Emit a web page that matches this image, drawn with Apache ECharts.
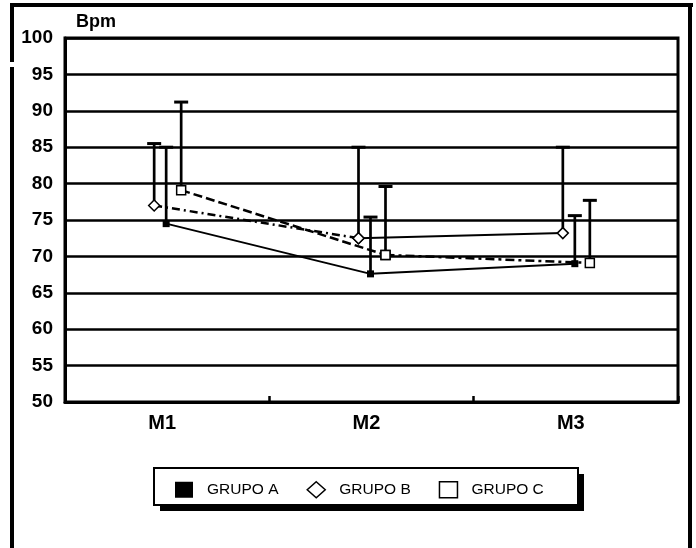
<!DOCTYPE html>
<html>
<head>
<meta charset="utf-8">
<script src="https://cdn.jsdelivr.net/npm/echarts@6/dist/echarts.min.js"></script>
<style>
html,body{margin:0;padding:0;background:#fff;}
#c{width:696px;height:548px;}
</style>
</head>
<body>
<div id="c"></div>
<script>
// ---- data ----
const categories = ['M1', 'M2', 'M3'];
const seriesNames = ['GRUPO A', 'GRUPO B', 'GRUPO C'];
const yMin = 50, yMax = 100, yStep = 5;
const grupoA = [74.5, 67.6, 69.0];
const grupoB = [77.0, 72.5, 73.2];
const grupoC = [79.1, 70.2, 69.1];
const sdA = [10.5, 7.8, 6.6];
const sdB = [8.5, 12.5, 11.8];
const sdC = [12.1, 9.4, 8.6];

// ---- layout / style ----
const W = 696, H = 548;
const GRID = {left: 65, right: 18, top: 38, bottom: 146};
const catWidthPx = (W - GRID.left - GRID.right) / categories.length;
const offsetPx = {A: -1, B: -13, C: 14};
const font = 'Liberation Sans, Arial, sans-serif';

function pts(vals, offPx, from, to) {
  const off = offPx / catWidthPx;
  const out = [];
  for (let i = from; i <= to; i++) out.push([i + off, vals[i]]);
  return out;
}

function errSeries(name, vals, sds, offPx) {
  const off = offPx / catWidthPx;
  return {
    type: 'custom', name: name, xAxisIndex: 1, z: 2, silent: true,
    data: vals.map((v, i) => [i + off, v, v + sds[i]]),
    renderItem: function (params, api) {
      const p0 = api.coord([api.value(0), api.value(1)]);
      const p1 = api.coord([api.value(0), api.value(2)]);
      return {
        type: 'group',
        children: [
          {type: 'line', shape: {x1: p0[0], y1: p0[1], x2: p1[0], y2: p1[1]},
           style: {stroke: '#000', lineWidth: 2.7}},
          {type: 'line', shape: {x1: p1[0] - 7, y1: p1[1], x2: p1[0] + 7, y2: p1[1]},
           style: {stroke: '#000', lineWidth: 3}}
        ]
      };
    }
  };
}

const symA = {symbol: 'rect', symbolSize: 7, itemStyle: {color: '#000', borderColor: '#000', borderWidth: 0}};
const symB = {symbol: 'diamond', symbolSize: 11, itemStyle: {color: '#fff', borderColor: '#000', borderWidth: 1.5}};
const symC = {symbol: 'rect', symbolSize: 9, itemStyle: {color: '#fff', borderColor: '#000', borderWidth: 1.5}};

function lineSeries(name, data, sym, lineType, width) {
  return Object.assign({
    type: 'line', name: name, xAxisIndex: 1, z: 3, data: data,
    showAllSymbol: true,
    lineStyle: {color: '#000', width: width, type: lineType},
    emphasis: {disabled: true}
  }, JSON.parse(JSON.stringify(sym)));
}

const chart = echarts.init(document.getElementById('c'), null, {renderer: 'canvas'});
chart.setOption({
  animation: false,
  backgroundColor: '#fff',
  title: {
    text: 'Bpm', left: 76, top: 13, padding: 0,
    textStyle: {fontSize: 18, fontWeight: 'bold', color: '#000', fontFamily: font}
  },
  grid: Object.assign({show: true, borderColor: '#000', borderWidth: 3, containLabel: false}, GRID),
  legend: {
    left: 175, top: 481, orient: 'horizontal',
    padding: 0,
    itemWidth: 18, itemHeight: 16, itemGap: 28,
    selectedMode: false,
    textStyle: {fontSize: 15.5, color: '#000', fontFamily: font, padding: [0, 0, 0, 9]},
    data: [
      {name: seriesNames[0], icon: 'rect', itemStyle: {color: '#000', borderWidth: 0}},
      {name: seriesNames[1], icon: 'diamond', itemStyle: {color: '#fff', borderColor: '#000', borderWidth: 1.5}},
      {name: seriesNames[2], icon: 'rect', itemStyle: {color: '#fff', borderColor: '#000', borderWidth: 1.5}}
    ]
  },
  xAxis: [
    {
      type: 'category', data: categories, boundaryGap: true,
      axisLine: {lineStyle: {color: '#000', width: 3}},
      axisTick: {show: true, inside: true, length: 6, lineStyle: {color: '#000', width: 2.5}},
      axisLabel: {fontSize: 20, fontWeight: 'bold', color: '#000', fontFamily: font, margin: 11, padding: [0, 10, 0, 0]},
      splitLine: {show: false}
    },
    {type: 'value', min: -0.5, max: categories.length - 0.5, show: false}
  ],
  yAxis: {
    type: 'value', min: yMin, max: yMax, interval: yStep,
    axisLine: {show: true, onZero: false, lineStyle: {color: '#000', width: 3}},
    axisTick: {show: false},
    axisLabel: {fontSize: 19, fontWeight: 'bold', color: '#000', fontFamily: font, margin: 12},
    splitLine: {show: true, lineStyle: {color: '#000', width: 2.5}}
  },
  series: [
    errSeries('SD A', grupoA, sdA, offsetPx.A),
    errSeries('SD B', grupoB, sdB, offsetPx.B),
    errSeries('SD C', grupoC, sdC, offsetPx.C),
    lineSeries(seriesNames[0], pts(grupoA, offsetPx.A, 0, 2), symA, 'solid', 2),
    lineSeries(seriesNames[1], pts(grupoB, offsetPx.B, 0, 1), symB, [8, 4, 2, 4], 2.5),
    lineSeries(seriesNames[1], pts(grupoB, offsetPx.B, 1, 2), symB, 'solid', 2),
    lineSeries(seriesNames[2], pts(grupoC, offsetPx.C, 0, 1), symC, [9, 4], 2.5),
    lineSeries(seriesNames[2], pts(grupoC, offsetPx.C, 1, 2), symC, [9, 4, 3, 4], 2.5)
  ],
  graphic: [
    {type: 'line', shape: {x1: 10, y1: 5, x2: 693, y2: 5}, style: {stroke: '#000', lineWidth: 4}, silent: true},
    {type: 'line', shape: {x1: 12, y1: 3, x2: 12, y2: 62}, style: {stroke: '#000', lineWidth: 4}, silent: true},
    {type: 'line', shape: {x1: 12, y1: 67, x2: 12, y2: 548}, style: {stroke: '#000', lineWidth: 4}, silent: true},
    {type: 'line', shape: {x1: 690, y1: 3, x2: 690, y2: 548}, style: {stroke: '#000', lineWidth: 4}, silent: true},
    {type: 'rect', shape: {x: 160, y: 474, width: 424, height: 37}, style: {fill: '#000'}, silent: true, z: -1},
    {type: 'rect', shape: {x: 154, y: 468, width: 424, height: 37}, style: {fill: '#fff', stroke: '#000', lineWidth: 2}, silent: true, z: -1}
  ]
});
</script>
</body>
</html>
